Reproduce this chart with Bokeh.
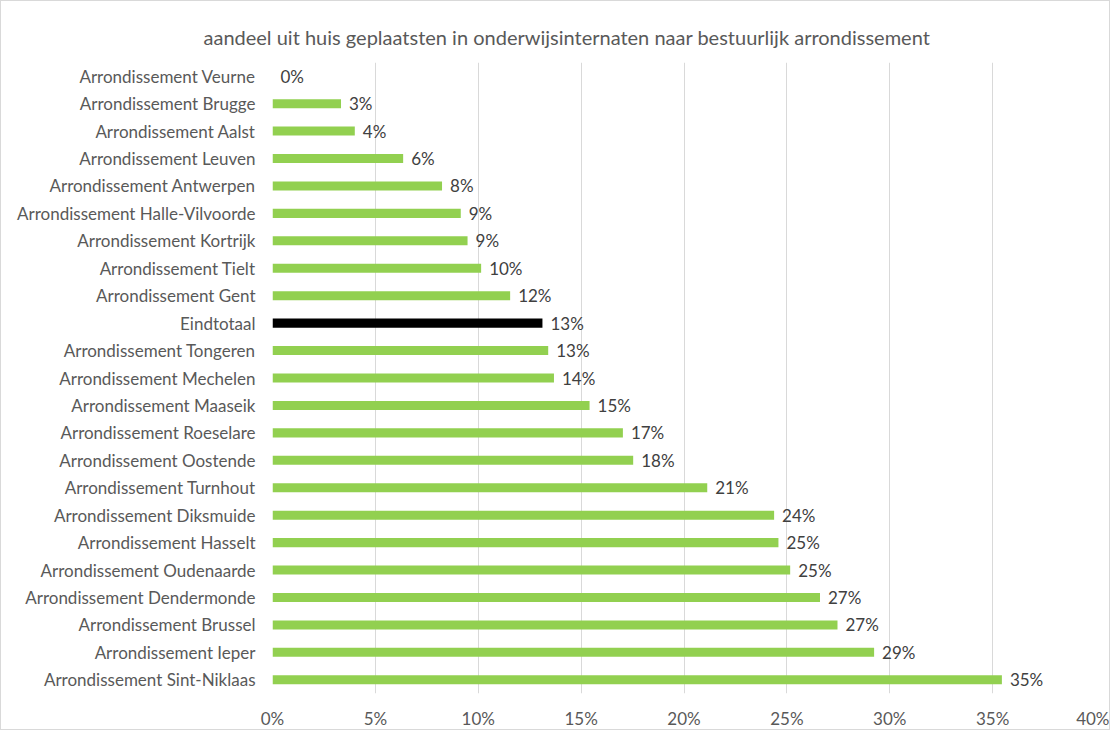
from bokeh.plotting import figure
from bokeh.models import ColumnDataSource, FactorRange, PrintfTickFormatter, FixedTicker, Range1d
from bokeh.embed import file_html
from bokeh.resources import INLINE
from bokeh.core.properties import value

categories = [
    "Arrondissement Veurne", "Arrondissement Brugge", "Arrondissement Aalst",
    "Arrondissement Leuven", "Arrondissement Antwerpen", "Arrondissement Halle-Vilvoorde",
    "Arrondissement Kortrijk", "Arrondissement Tielt", "Arrondissement Gent",
    "Eindtotaal", "Arrondissement Tongeren", "Arrondissement Mechelen",
    "Arrondissement Maaseik", "Arrondissement Roeselare", "Arrondissement Oostende",
    "Arrondissement Turnhout", "Arrondissement Diksmuide", "Arrondissement Hasselt",
    "Arrondissement Oudenaarde", "Arrondissement Dendermonde", "Arrondissement Brussel",
    "Arrondissement Ieper", "Arrondissement Sint-Niklaas",
]
values = [0.0, 3.33, 4.0, 6.35, 8.24, 9.15, 9.48, 10.14, 11.55, 13.12, 13.40, 13.68,
          15.41, 17.03, 17.53, 21.13, 24.38, 24.59, 25.16, 26.61, 27.46, 29.24, 35.45]
x_ticks = [0, 5, 10, 15, 20, 25, 30, 35, 40]
title_text = "aandeel uit huis geplaatsten in onderwijsinternaten naar bestuurlijk arrondissement"

GREEN = "#92D050"
colors = ["#000000" if c == "Eindtotaal" else GREEN for c in categories]
labels = ["%d%%" % int(round(v)) for v in values]

src = ColumnDataSource(dict(cat=categories, val=values, color=colors, label=labels))

FONT = "Lato"

p = figure(
    width=1110, height=730,
    y_range=FactorRange(factors=list(reversed(categories)), range_padding=0),
    x_range=Range1d(0, 40),
    output_backend="svg", toolbar_location=None,
    min_border_left=271, min_border_right=16, min_border_top=61, min_border_bottom=37,
    title=title_text,
)

p.hbar(y="cat", right="val", left=0, height=0.33, fill_color="color", line_color=None,
       source=src)
p.text(x="val", y="cat", text="label", source=src, x_offset=8, text_baseline="middle",
       text_align="left", text_color="#404040", text_font_size="17px",
       text_font=value(FONT))

p.title.align = "left"
p.title.text_font = FONT
p.title.text_font_size = "20px"
p.title.text_font_style = "normal"
p.title.text_color = "#595959"
p.title.offset = -69
p.title.standoff = 28

p.xaxis.ticker = FixedTicker(ticks=x_ticks)
p.xaxis.formatter = PrintfTickFormatter(format="%d%%")
p.xaxis.axis_line_color = None
p.xaxis.major_tick_line_color = None
p.xaxis.minor_tick_line_color = None
p.xaxis.major_label_text_font = FONT
p.xaxis.major_label_text_font_size = "17px"
p.xaxis.major_label_text_color = "#595959"
p.xaxis.major_label_standoff = 8

p.yaxis.axis_line_color = None
p.yaxis.major_tick_line_color = None
p.yaxis.minor_tick_line_color = None
p.yaxis.major_label_text_font = FONT
p.yaxis.major_label_text_font_size = "17px"
p.yaxis.major_label_text_color = "#595959"
p.yaxis.major_label_standoff = 11

p.xgrid.grid_line_color = "#D9D9D9"
p.ygrid.grid_line_color = None
p.outline_line_color = None
p.styles = {"border": "1px solid #D9D9D9"}

open("out.html", "w").write(file_html(p, INLINE))
